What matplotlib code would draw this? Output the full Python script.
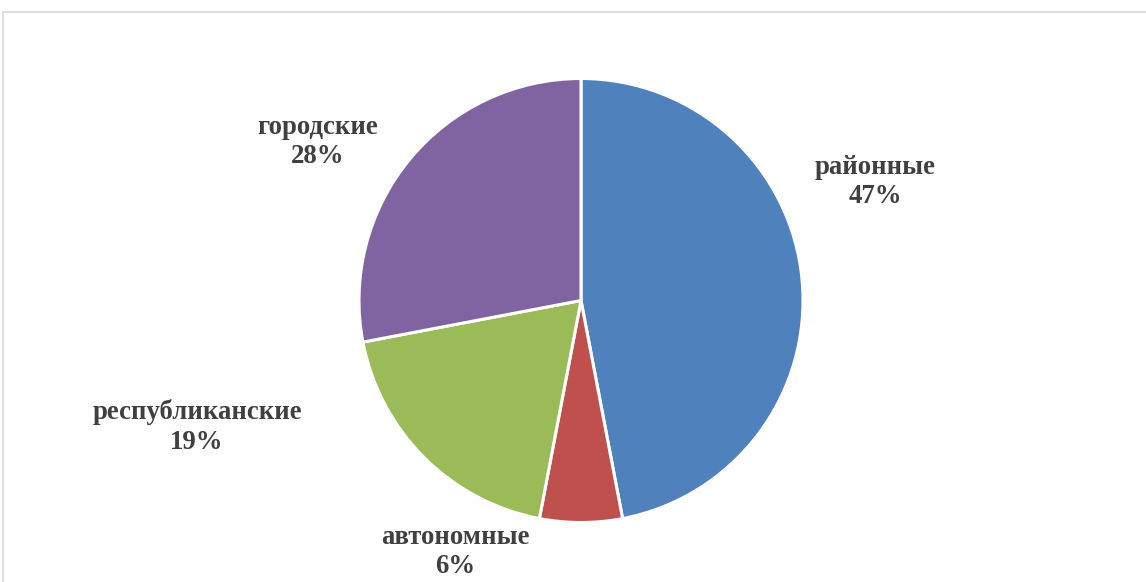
import matplotlib.pyplot as plt
from matplotlib.patches import Rectangle

# data
categories = ["районные", "автономные", "республиканские", "городские"]
shares = [47, 6, 19, 28]
colors = ["#4F81BD", "#C0504D", "#9BBB59", "#8064A2"]

W, H = 1146, 582
fig = plt.figure(figsize=(W / 100, H / 100), dpi=100)
fig.patch.set_facecolor("white")

# chart-area frame (right / bottom edges fall outside the crop)
fig.patches.append(Rectangle((3 / W, -0.1), 1.2, 1 - 12 / H + 0.1,
                             transform=fig.transFigure, fill=False,
                             edgecolor="#D9D9D9", linewidth=1.2))

ax = fig.add_axes([0, 0, 1, 1])
ax.set_xlim(0, W); ax.set_ylim(0, H)
ax.set_aspect("equal"); ax.axis("off")

cx, cy, r = 581, H - 300.5, 222
ax.pie(shares, colors=colors, startangle=90, counterclock=False,
       center=(cx, cy), radius=r, frame=True,
       wedgeprops=dict(edgecolor="white", linewidth=2.2))
ax.set_xlim(0, W); ax.set_ylim(0, H); ax.axis("off")

# label anchor points (pixel coords, from top-left)
label_pos = [(875, 182), (455, 552), (197, 427), (318, 142)]
for name, val, (lx, ly) in zip(categories, shares, label_pos):
    ax.text(lx, H - ly, f"{name}\n{val}%", ha="center", va="center",
            fontsize=19.3, fontweight="bold", color="#404040",
            family="Liberation Serif", linespacing=1.25)

fig.savefig("out.png", dpi=100)
